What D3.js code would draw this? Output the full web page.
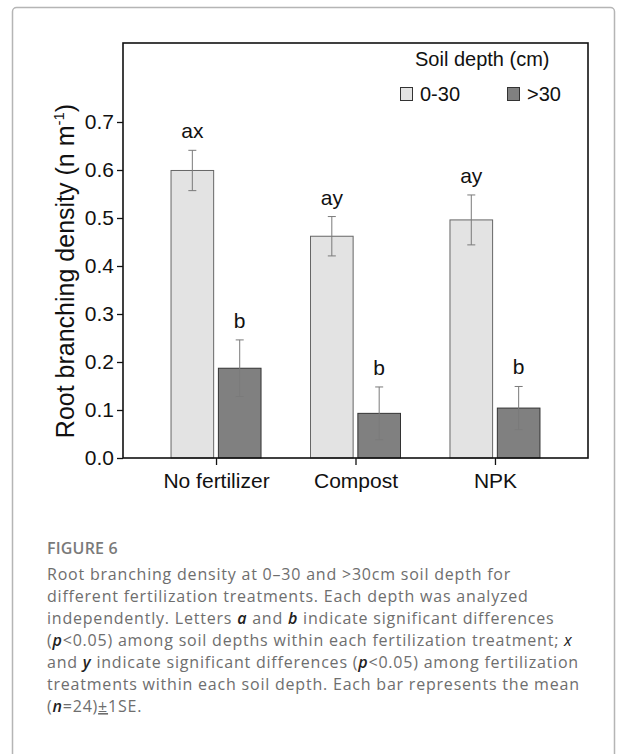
<!DOCTYPE html>
<html>
<head>
<meta charset="utf-8">
<script src="https://cdn.jsdelivr.net/npm/d3@7"></script>
<style>
  body { margin: 0; background: #fff; }
  svg { display: block; }
</style>
</head>
<body>
<div id="chart"></div>
<script>
// values
const treatments = ["No fertilizer", "Compost", "NPK"];
const depths = ["0-30", ">30"];
const shallowMean = [0.599, 0.462, 0.496];
const shallowSE = [0.042, 0.041, 0.052];
const deepMean = [0.187, 0.093, 0.104];
const deepSE = [0.059, 0.055, 0.045];
const shallowLetters = ["ax", "ay", "ay"];
const deepLetters = ["b", "b", "b"];
const yTicks = [0, 0.1, 0.2, 0.3, 0.4, 0.5, 0.6, 0.7];

const captionLines = [
  [["Root branching density at 0\u201330 and >30cm soil depth for", 0]],
  [["different fertilization treatments. Each depth was analyzed", 0]],
  [["independently. Letters ", 0], ["a", 1], [" and ", 0], ["b", 1], [" indicate significant differences", 0]],
  [["(", 0], ["p", 1], ["<0.05) among soil depths within each fertilization treatment; ", 0], ["x", 2]],
  [["and ", 0], ["y", 1], [" indicate significant differences (", 0], ["p", 1], ["<0.05) among fertilization", 0]],
  [["treatments within each soil depth. Each bar represents the mean", 0]],
  [["(", 0], ["n", 1], ["=24)", 0], ["\u00b1", 3], ["1SE.", 0]]
];

const width = 625, height = 754;
const plot = { left: 123, right: 588, top: 43, bottom: 458 };
const fills = { "0-30": "#e3e3e3", ">30": "#808080" };
const strokes = { "0-30": "#666", ">30": "#333" };

const rows = [];
treatments.forEach((t, i) => {
  rows.push({ t, depth: "0-30", v: shallowMean[i], se: shallowSE[i], lab: shallowLetters[i] });
  rows.push({ t, depth: ">30", v: deepMean[i], se: deepSE[i], lab: deepLetters[i] });
});

const svg = d3.select("#chart").append("svg")
  .attr("width", width)
  .attr("height", height);

// outer page frame
svg.append("rect")
  .attr("x", 12.5).attr("y", 7.5)
  .attr("width", 602).attr("height", 800)
  .attr("rx", 4)
  .attr("fill", "none")
  .attr("stroke", "#b5b5b5")
  .attr("stroke-width", 1.5);

const x = d3.scalePoint()
  .domain(treatments)
  .range([plot.left, plot.right])
  .padding(0.667);

const x1 = d3.scaleBand()
  .domain(depths)
  .range([-45, 45])
  .paddingInner(0.1);

const y = d3.scaleLinear()
  .domain([0, (plot.bottom - plot.top) / 480])
  .range([plot.bottom, plot.top]);

const font = "Liberation Sans, Arial, sans-serif";

// bars
const g = svg.append("g");
g.selectAll("rect.bar")
  .data(rows)
  .enter().append("rect")
  .attr("class", "bar")
  .attr("x", d => x(d.t) + x1(d.depth))
  .attr("y", d => y(d.v))
  .attr("width", x1.bandwidth())
  .attr("height", d => y(0) - y(d.v))
  .attr("fill", d => fills[d.depth])
  .attr("stroke", d => strokes[d.depth])
  .attr("stroke-width", 1);

// error bars
const err = g.selectAll("g.err")
  .data(rows)
  .enter().append("g")
  .attr("class", "err")
  .attr("stroke", "#7a7a7a")
  .attr("stroke-width", 1);
const cx = d => x(d.t) + x1(d.depth) + x1.bandwidth() / 2;
err.append("line")
  .attr("x1", cx).attr("x2", cx)
  .attr("y1", d => y(d.v - d.se)).attr("y2", d => y(d.v + d.se));
err.append("line")
  .attr("x1", d => cx(d) - 4).attr("x2", d => cx(d) + 4)
  .attr("y1", d => y(d.v + d.se)).attr("y2", d => y(d.v + d.se));
err.append("line")
  .attr("x1", d => cx(d) - 4).attr("x2", d => cx(d) + 4)
  .attr("y1", d => y(d.v - d.se)).attr("y2", d => y(d.v - d.se));

// significance letters
g.selectAll("text.sig")
  .data(rows)
  .enter().append("text")
  .attr("class", "sig")
  .attr("x", cx)
  .attr("y", d => y(d.v + d.se) - 12)
  .attr("text-anchor", "middle")
  .style("font-family", font)
  .style("font-size", "21px")
  .attr("fill", "#111")
  .text(d => d.lab);

// axes
const yAxis = svg.append("g")
  .attr("transform", `translate(${plot.left},0)`)
  .call(d3.axisLeft(y).tickValues(yTicks).tickFormat(d3.format(".1f")).tickSize(6).tickPadding(3));
yAxis.select(".domain").remove();
yAxis.selectAll("line").attr("stroke", "#111").attr("stroke-width", 1.3);
yAxis.selectAll("text").style("font-family", font).style("font-size", "21px").attr("fill", "#111");

const xAxis = svg.append("g")
  .attr("transform", `translate(0,${plot.bottom})`)
  .call(d3.axisBottom(x).tickSize(7).tickPadding(8));
xAxis.select(".domain").remove();
xAxis.selectAll("line").attr("stroke", "#111").attr("stroke-width", 1.3);
xAxis.selectAll("text").style("font-family", font).style("font-size", "21px").attr("fill", "#111");

// plot frame
svg.append("rect")
  .attr("x", plot.left).attr("y", plot.top)
  .attr("width", plot.right - plot.left)
  .attr("height", plot.bottom - plot.top)
  .attr("fill", "none")
  .attr("stroke", "#111")
  .attr("stroke-width", 1.6);

// y title
const yt = svg.append("text")
  .attr("transform", "translate(74,271) rotate(-90)")
  .attr("text-anchor", "middle")
  .style("font-family", font)
  .style("font-size", "25px")
  .attr("fill", "#111");
yt.append("tspan").text("Root branching density (n m");
yt.append("tspan").attr("dy", -10).style("font-size", "15px").text("-1");
yt.append("tspan").attr("dy", 10).text(")");

// legend
const leg = svg.append("g").style("font-family", font).style("font-size", "20px").attr("fill", "#111");
leg.append("text").attr("x", 415).attr("y", 66).text("Soil depth (cm)");
const legX = [400, 507];
depths.forEach((dp, i) => {
  leg.append("rect")
    .attr("x", legX[i] + 0.5).attr("y", 87.5)
    .attr("width", 12).attr("height", 13)
    .attr("fill", fills[dp])
    .attr("stroke", "#333").attr("stroke-width", 1);
  leg.append("text").attr("x", legX[i] + 20).attr("y", 101).text(dp);
});

// caption
const cap = svg.append("g").style("font-family", "Open Sans, sans-serif");
cap.append("text")
  .attr("x", 47).attr("y", 554)
  .style("font-size", "16px")
  .style("font-weight", 600)
  .style("letter-spacing", "0.2px")
  .attr("fill", "#7a7a7a")
  .text("FIGURE 6");
const capTexts = captionLines.map((line, i) => {
  const t = cap.append("text")
    .attr("x", 47).attr("y", 580 + i * 22)
    .style("font-size", "16px")
    .attr("fill", "#6e6e6e");
  line.forEach(([s, kind]) => {
    const sp = t.append("tspan").text(s);
    if (kind === 1) sp.style("font-style", "italic").style("font-weight", 600).attr("fill", "#222");
    if (kind === 2) sp.style("font-style", "italic").attr("fill", "#222");
    if (kind === 3) sp.style("text-decoration", "underline");
  });
  return t;
});
// caption lines together span about 3140px in the figure; widen with letter spacing
let wSum = 0, nSum = 0;
capTexts.forEach((t, i) => {
  wSum += t.node().getComputedTextLength();
  nSum += captionLines[i].map(s => s[0]).join("").length;
});
const ls = Math.max(0, (3140 - wSum) / nSum);
capTexts.forEach(t => t.style("letter-spacing", ls.toFixed(2) + "px"));
</script>
</body>
</html>
